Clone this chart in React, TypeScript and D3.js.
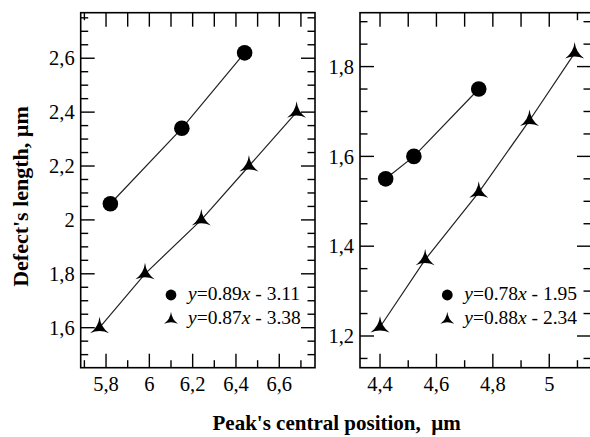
import * as React from 'react';
import * as d3 from 'd3';

// left panel data
const leftCircleX = [5.82, 6.15, 6.44];
const leftCircleY = [2.06, 2.34, 2.62];
const leftStarX = [5.77, 5.98, 6.24, 6.46, 6.68];
const leftStarY = [1.6, 1.8, 2.0, 2.2, 2.4];

// right panel data
const rightCircleX = [4.42, 4.52, 4.75];
const rightCircleY = [1.55, 1.6, 1.75];
const rightStarX = [4.4, 4.56, 4.75, 4.93, 5.09];
const rightStarY = [1.22, 1.37, 1.52, 1.68, 1.83];

// ticks
const leftXMajor = [5.8, 6, 6.2, 6.4, 6.6];
const leftXMinor = [5.7, 5.9, 6.1, 6.3, 6.5, 6.7];
const leftXTopShort = [5.7];
const leftYMajor = [1.6, 1.8, 2, 2.2, 2.4, 2.6];
const leftYMinor = [1.5, 1.55, 1.65, 1.7, 1.75, 1.85, 1.9, 1.95, 2.05, 2.1, 2.15, 2.25, 2.3, 2.35, 2.45, 2.5, 2.55, 2.65, 2.7, 2.75];
const rightXMajor = [4.4, 4.6, 4.8, 5];
const rightXMinor = [4.5, 4.7, 4.9, 5.1];
const rightXTopShort = [5.1];
const rightYMajor = [1.2, 1.4, 1.6, 1.8];
const rightYMinor = [1.15, 1.25, 1.3, 1.35, 1.45, 1.5, 1.55, 1.65, 1.7, 1.75, 1.85, 1.9];

const leftLegend = [
  { k: 'circle', a: '0.89', b: '3.11' },
  { k: 'star', a: '0.87', b: '3.38' },
];
const rightLegend = [
  { k: 'circle', a: '0.78', b: '1.95' },
  { k: 'star', a: '0.88', b: '2.34' },
];

const FONT = 'Liberation Serif';

function starPath(cx, cy, r) {
  const pts = [-90, 30, 150].map((a) => {
    const t = (a * Math.PI) / 180;
    return [cx + r * Math.cos(t), cy + r * Math.sin(t)];
  });
  const ctl = [-30, 90, 210].map((a) => {
    const t = (a * Math.PI) / 180;
    return [cx + r * 0.12 * Math.cos(t), cy + r * 0.12 * Math.sin(t)];
  });
  return `M${pts[0]} Q${ctl[0]} ${pts[1]} Q${ctl[1]} ${pts[2]} Q${ctl[2]} ${pts[0]}Z`;
}

const fmt = (v) => String(+v.toFixed(2)).replace('.', ',');

function Panel(p) {
  const x = d3.scaleLinear().domain(p.xDomain).range([p.x0, p.x1]);
  const y = d3.scaleLinear().domain(p.yDomain).range([p.y1, p.y0]);
  const major = 14, minor = 7.5;
  const line = d3.line().x((d) => x(d[0])).y((d) => y(d[1]));
  const cPts = p.cx.map((v, i) => [v, p.cy[i]]);
  const sPts = p.sx.map((v, i) => [v, p.sy[i]]);
  const tk = { stroke: '#000', strokeWidth: 1.4 };

  return (
    <g>
      {p.xMajor.map((v) => (
        <g key={'xm' + v}>
          <line x1={x(v)} x2={x(v)} y1={p.y1} y2={p.y1 - major} {...tk} />
          <line x1={x(v)} x2={x(v)} y1={p.y0} y2={p.y0 + major} {...tk} />
          <text x={x(v)} y={p.y1 + 23.5} textAnchor="middle" fontFamily={FONT} fontSize={20.5}>{fmt(v)}</text>
        </g>
      ))}
      {p.xMinor.map((v) => (
        <g key={'xn' + v}>
          <line x1={x(v)} x2={x(v)} y1={p.y1} y2={p.y1 - minor} {...tk} />
          <line x1={x(v)} x2={x(v)} y1={p.y0} y2={p.y0 + (p.xTopShort.includes(v) ? minor : major)} {...tk} />
        </g>
      ))}
      {p.yMajor.map((v) => (
        <g key={'ym' + v}>
          <line x1={p.x0} x2={p.x0 + major} y1={y(v)} y2={y(v)} {...tk} />
          <line x1={p.x1} x2={p.x1 - major} y1={y(v)} y2={y(v)} {...tk} />
          <text x={p.x0 - 6} y={y(v)} dy="0.35em" textAnchor="end" fontFamily={FONT} fontSize={20.5}>{fmt(v)}</text>
        </g>
      ))}
      {p.yMinor.map((v) => (
        <g key={'yn' + v}>
          <line x1={p.x0} x2={p.x0 + minor} y1={y(v)} y2={y(v)} {...tk} />
          <line x1={p.x1} x2={p.x1 - minor} y1={y(v)} y2={y(v)} {...tk} />
        </g>
      ))}
      <rect x={p.x0} y={p.y0} width={p.x1 - p.x0} height={p.y1 - p.y0} fill="none" stroke="#000" strokeWidth={1.6} />
      <path d={line(cPts)} fill="none" stroke="#222" strokeWidth={1.2} />
      <path d={line(sPts)} fill="none" stroke="#222" strokeWidth={1.2} />
      {cPts.map((d, i) => <circle key={'c' + i} cx={x(d[0])} cy={y(d[1])} r={7.8} fill="#000" />)}
      {sPts.map((d, i) => <path key={'s' + i} d={starPath(x(d[0]), y(d[1]), 11)} fill="#000" />)}
      {p.legend.map((l, i) => {
        const ly = p.legY + i * 24.7;
        return (
          <g key={'l' + i}>
            {l.k === 'circle'
              ? <circle cx={p.legX} cy={ly - 4.5} r={5.4} fill="#000" />
              : <path d={starPath(p.legX, ly - 4.5, 8)} fill="#000" />}
            <text x={p.legX + 17} y={ly} fontFamily={FONT} fontSize={19.5} style={{ whiteSpace: 'pre' }}>
              <tspan fontStyle="italic">y</tspan>
              <tspan>{'=' + l.a}</tspan>
              <tspan fontStyle="italic">x</tspan>
              <tspan>{' - ' + l.b}</tspan>
            </text>
          </g>
        );
      })}
    </g>
  );
}

export default function App() {
  return (
    <svg width={590} height={437} style={{ position: 'absolute', left: 0, top: 0, background: '#fff' }}>
      <Panel x0={80.7} x1={315} y0={12.7} y1={367.7}
        xDomain={[5.683, 6.765]} yDomain={[1.4515, 2.769]}
        xMajor={leftXMajor} xMinor={leftXMinor} xTopShort={leftXTopShort}
        yMajor={leftYMajor} yMinor={leftYMinor}
        cx={leftCircleX} cy={leftCircleY} sx={leftStarX} sy={leftStarY}
        legend={leftLegend} legX={171} legY={299.5} />
      <Panel x0={360} x1={591} y0={12.7} y1={367.7}
        xDomain={[4.329, 5.148]} yDomain={[1.1294, 1.92]}
        xMajor={rightXMajor} xMinor={rightXMinor} xTopShort={rightXTopShort}
        yMajor={rightYMajor} yMinor={rightYMinor}
        cx={rightCircleX} cy={rightCircleY} sx={rightStarX} sy={rightStarY}
        legend={rightLegend} legX={447.3} legY={299.5} />
      <text transform="translate(28,196.5) rotate(-90)" textAnchor="middle" fontFamily={FONT}
        fontSize={22} fontWeight="bold">{"Defect's length, \u00b5m"}</text>
      <text x={336.7} y={430} textAnchor="middle" fontFamily={FONT} fontSize={21} fontWeight="bold"
        style={{ whiteSpace: 'pre' }}>{"Peak's central position,  \u00b5m"}</text>
    </svg>
  );
}
